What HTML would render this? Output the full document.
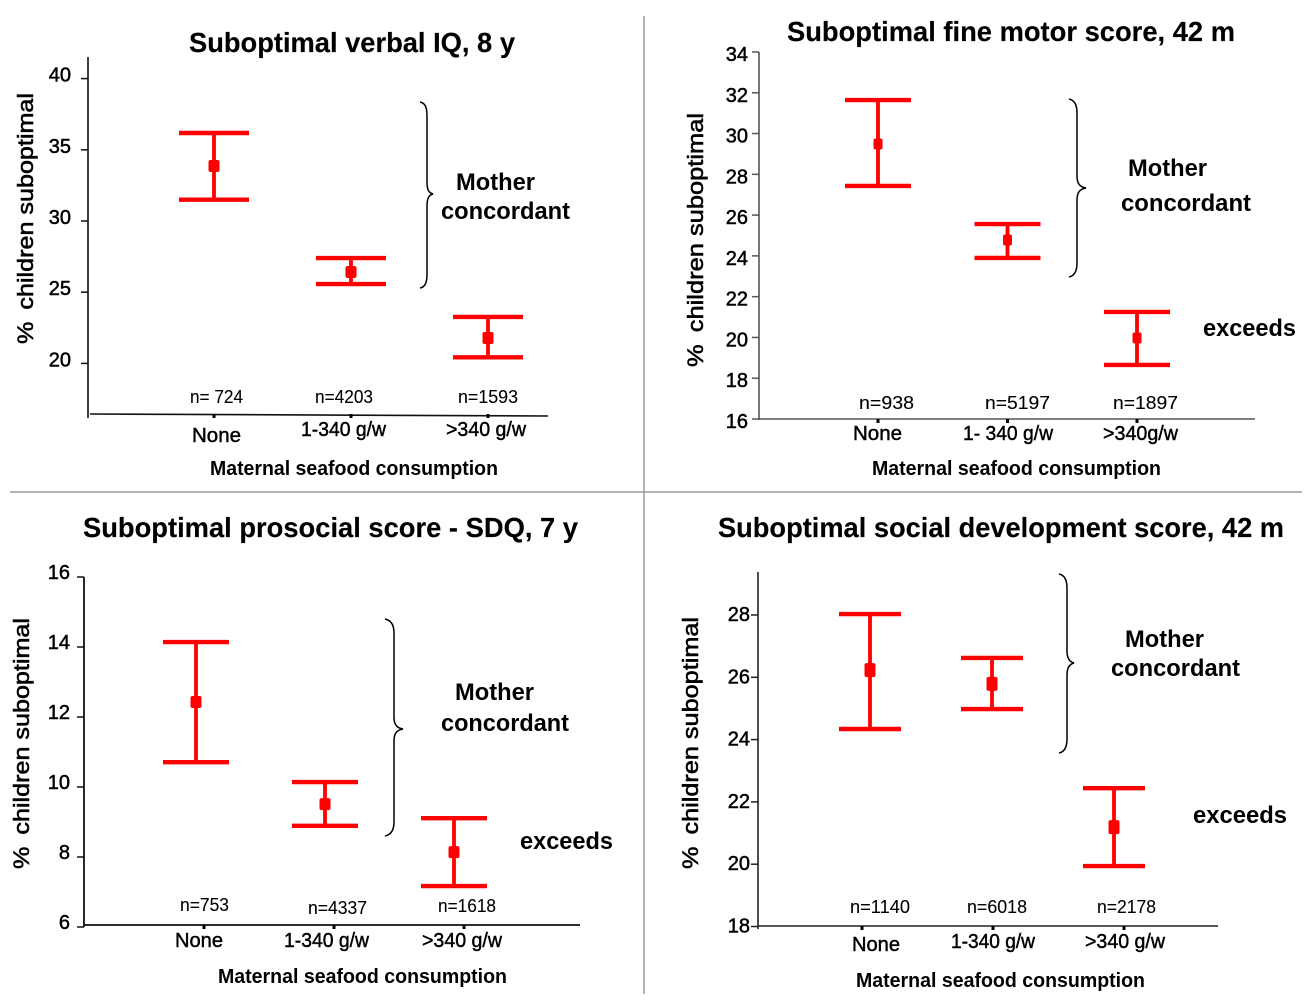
<!DOCTYPE html>
<html lang="en">
<head>
<meta charset="utf-8">
<title>Maternal seafood consumption and suboptimal child outcomes</title>
<style>
  html, body { margin: 0; padding: 0; background: #fff; }
  svg { display: block; filter: blur(0.35px); }
  text { font-family: "Liberation Sans", Arial, sans-serif; fill: #000; }
  .title { font-size: 28px; font-weight: bold; stroke: #000; stroke-width: 0.15px; }
  .ytitle { font-size: 22px; stroke: #000; stroke-width: 0.55px; }
  .tick { font-size: 20px; stroke: #000; stroke-width: 0.5px; }
  .n { font-size: 18px; stroke: #000; stroke-width: 0.1px; }
  .cat { font-size: 20px; stroke: #000; stroke-width: 0.45px; }
  .xtitle { font-size: 20px; font-weight: bold; }
  .note { font-size: 24px; font-weight: bold; }
</style>
</head>
<body>
<svg id="chart" xmlns="http://www.w3.org/2000/svg" width="1306" height="1000" viewBox="0 0 1306 1000">
  <rect width="1306" height="1000" fill="#fff"/>
  <line x1="644" y1="16" x2="644" y2="994" stroke="#9a9a9a" stroke-width="1.5"/>
  <line x1="10" y1="492" x2="1302" y2="492" stroke="#9a9a9a" stroke-width="1.5"/>

  <!-- Panel 1 text -->
  <text class="title" x="189" y="52" textLength="326" lengthAdjust="spacingAndGlyphs">Suboptimal verbal IQ, 8 y</text>
  <text class="ytitle" transform="translate(33 344) rotate(-90)" textLength="251" lengthAdjust="spacingAndGlyphs">%&#160;&#8201;children suboptimal</text>
  <text class="n" x="190" y="403" textLength="53" lengthAdjust="spacingAndGlyphs">n= 724</text>
  <text class="n" x="315" y="403" textLength="58" lengthAdjust="spacingAndGlyphs">n=4203</text>
  <text class="n" x="458" y="403" textLength="60" lengthAdjust="spacingAndGlyphs">n=1593</text>
  <text class="cat" x="192" y="442" textLength="49" lengthAdjust="spacingAndGlyphs">None</text>
  <text class="cat" x="301" y="436" textLength="85" lengthAdjust="spacingAndGlyphs">1-340 g/w</text>
  <text class="cat" x="446" y="436" textLength="80" lengthAdjust="spacingAndGlyphs">&gt;340 g/w</text>
  <text class="xtitle" x="210" y="475" textLength="288" lengthAdjust="spacingAndGlyphs">Maternal seafood consumption</text>
  <text class="note" x="456" y="190" textLength="79" lengthAdjust="spacingAndGlyphs">Mother</text>
  <text class="note" x="441" y="219" textLength="129" lengthAdjust="spacingAndGlyphs">concordant</text>

  <!-- Panel 2 text -->
  <text class="title" x="787" y="41" textLength="448" lengthAdjust="spacingAndGlyphs">Suboptimal fine motor score, 42 m</text>
  <text class="ytitle" transform="translate(703 367) rotate(-90)" textLength="254" lengthAdjust="spacingAndGlyphs">%&#160;&#8201;children suboptimal</text>
  <text class="n" x="859" y="409" textLength="55" lengthAdjust="spacingAndGlyphs">n=938</text>
  <text class="n" x="985" y="409" textLength="65" lengthAdjust="spacingAndGlyphs">n=5197</text>
  <text class="n" x="1113" y="409" textLength="65" lengthAdjust="spacingAndGlyphs">n=1897</text>
  <text class="cat" x="853" y="440" textLength="49" lengthAdjust="spacingAndGlyphs">None</text>
  <text class="cat" x="963" y="440" textLength="90" lengthAdjust="spacingAndGlyphs">1- 340 g/w</text>
  <text class="cat" x="1103" y="440" textLength="75" lengthAdjust="spacingAndGlyphs">&gt;340g/w</text>
  <text class="xtitle" x="872" y="475" textLength="289" lengthAdjust="spacingAndGlyphs">Maternal seafood consumption</text>
  <text class="note" x="1128" y="176" textLength="79" lengthAdjust="spacingAndGlyphs">Mother</text>
  <text class="note" x="1121" y="211" textLength="130" lengthAdjust="spacingAndGlyphs">concordant</text>
  <text class="note" x="1203" y="336" textLength="93" lengthAdjust="spacingAndGlyphs">exceeds</text>

  <!-- Panel 3 text -->
  <text class="title" x="83" y="537" textLength="495" lengthAdjust="spacingAndGlyphs">Suboptimal prosocial score - SDQ, 7 y</text>
  <text class="ytitle" transform="translate(29 869) rotate(-90)" textLength="251" lengthAdjust="spacingAndGlyphs">%&#160;&#8201;children suboptimal</text>
  <text class="n" x="180" y="911" textLength="49" lengthAdjust="spacingAndGlyphs">n=753</text>
  <text class="n" x="308" y="914" textLength="59" lengthAdjust="spacingAndGlyphs">n=4337</text>
  <text class="n" x="438" y="912" textLength="58" lengthAdjust="spacingAndGlyphs">n=1618</text>
  <text class="cat" x="175" y="947" textLength="48" lengthAdjust="spacingAndGlyphs">None</text>
  <text class="cat" x="284" y="947" textLength="85" lengthAdjust="spacingAndGlyphs">1-340 g/w</text>
  <text class="cat" x="422" y="947" textLength="80" lengthAdjust="spacingAndGlyphs">&gt;340 g/w</text>
  <text class="xtitle" x="218" y="983" textLength="289" lengthAdjust="spacingAndGlyphs">Maternal seafood consumption</text>
  <text class="note" x="455" y="700" textLength="79" lengthAdjust="spacingAndGlyphs">Mother</text>
  <text class="note" x="441" y="731" textLength="128" lengthAdjust="spacingAndGlyphs">concordant</text>
  <text class="note" x="520" y="849" textLength="93" lengthAdjust="spacingAndGlyphs">exceeds</text>

  <!-- Panel 4 text -->
  <text class="title" x="718" y="537" textLength="566" lengthAdjust="spacingAndGlyphs">Suboptimal social development score, 42 m</text>
  <text class="ytitle" transform="translate(698 869) rotate(-90)" textLength="252" lengthAdjust="spacingAndGlyphs">%&#160;&#8201;children suboptimal</text>
  <text class="n" x="850" y="913" textLength="60" lengthAdjust="spacingAndGlyphs">n=1140</text>
  <text class="n" x="967" y="913" textLength="60" lengthAdjust="spacingAndGlyphs">n=6018</text>
  <text class="n" x="1097" y="913" textLength="59" lengthAdjust="spacingAndGlyphs">n=2178</text>
  <text class="cat" x="852" y="951" textLength="48" lengthAdjust="spacingAndGlyphs">None</text>
  <text class="cat" x="951" y="948" textLength="84" lengthAdjust="spacingAndGlyphs">1-340 g/w</text>
  <text class="cat" x="1085" y="948" textLength="80" lengthAdjust="spacingAndGlyphs">&gt;340 g/w</text>
  <text class="xtitle" x="856" y="987" textLength="289" lengthAdjust="spacingAndGlyphs">Maternal seafood consumption</text>
  <text class="note" x="1125" y="647" textLength="79" lengthAdjust="spacingAndGlyphs">Mother</text>
  <text class="note" x="1111" y="676" textLength="129" lengthAdjust="spacingAndGlyphs">concordant</text>
  <text class="note" x="1193" y="823" textLength="94" lengthAdjust="spacingAndGlyphs">exceeds</text>

  <!-- Braces -->
  <path fill="none" stroke="#000" stroke-width="1.5" d="M420 102 C425 103 427 107 427 116 L427 182 C427 190 429 193 433 194 C429 195 427 198 427 206 L427 274 C427 283 425 287 420 288"/>
  <path fill="none" stroke="#000" stroke-width="1.5" d="M1069 99 C1074 100 1077 104 1077 113 L1077 176 C1077 184 1080 187 1086 188 C1080 189 1077 192 1077 200 L1077 263 C1077 272 1074 276 1069 277"/>
  <path fill="none" stroke="#000" stroke-width="1.5" d="M385 619 C390 620 394 624 394 633 L394 717 C394 725 397 728 403 729 C397 730 394 733 394 741 L394 822 C394 831 390 835 385 836"/>
  <path fill="none" stroke="#000" stroke-width="1.5" d="M1059 574 C1064 575 1067 579 1067 588 L1067 651 C1067 659 1070 662 1074 663 C1070 664 1067 667 1067 675 L1067 739 C1067 748 1064 752 1059 753"/>

  <g id="marks"></g>
</svg>

<script>
// ---- Verbal IQ, 8 y ----
const verbalCategories = ['none', '1-340', 'over-340'];
const verbalHigh = [36.18, 27.4, 23.26];
const verbalMean = [33.86, 26.42, 21.78];
const verbalLow = [31.5, 25.57, 20.43];
const verbalTicks = [20, 25, 30, 35, 40];

// ---- Fine motor score, 42 m ----
const motorCategories = ['none', '1-340', 'over-340'];
const motorHigh = [31.64, 25.56, 21.25];
const motorMean = [29.49, 24.78, 19.97];
const motorLow = [27.43, 23.9, 18.65];
const motorTicks = [16, 18, 20, 22, 24, 26, 28, 30, 32, 34];

// ---- Prosocial score - SDQ, 7 y ----
const prosocialCategories = ['none', '1-340', 'over-340'];
const prosocialHigh = [14.14, 10.14, 9.11];
const prosocialMean = [12.43, 9.51, 8.14];
const prosocialLow = [10.71, 8.89, 7.17];
const prosocialTicks = [6, 8, 10, 12, 14, 16];

// ---- Social development score, 42 m ----
const socialCategories = ['none', '1-340', 'over-340'];
const socialHigh = [28.03, 26.62, 22.44];
const socialMean = [26.23, 25.79, 21.19];
const socialLow = [24.34, 24.98, 19.94];
const socialTicks = [18, 20, 22, 24, 26, 28];

const SVG_NS = 'http://www.w3.org/2000/svg';
const root = document.getElementById('marks');

function makeLine(x1, y1, x2, y2, color, width) {
  const el = document.createElementNS(SVG_NS, 'line');
  el.setAttribute('x1', x1);
  el.setAttribute('y1', y1);
  el.setAttribute('x2', x2);
  el.setAttribute('y2', y2);
  el.setAttribute('stroke', color);
  el.setAttribute('stroke-width', width);
  root.appendChild(el);
  return el;
}

function drawPanel(p) {
  // axis functions
  const yScale = v => p.yRefPx - (v - p.yRefVal) * p.pxPerUnit;
  const markX = i => p.markX0 + i * p.markStep;
  const tickX = i => p.tickX0 + i * p.tickStep;

  const yAxis = makeLine(p.axisX, p.axisTop, p.axisX, p.axisBottom, p.axisColor, p.axisWidth);
  
  

  const xAxis = makeLine(p.xAxisStart, p.xAxisY, p.xAxisEnd, p.xAxisY + p.xAxisTilt, p.axisColor, p.axisWidth);
  
  

  p.ticks.forEach(function (t) {
    const y = yScale(t);
    const tick = makeLine(p.axisX - 7, y, p.axisX, y, p.axisColor, 1.5);
    
    

    const label = document.createElementNS(SVG_NS, 'text');
    label.setAttribute('class', 'tick');
    label.setAttribute('x', p.labelRight);
    label.setAttribute('y', y + p.labelDy);
    label.setAttribute('text-anchor', 'end');
    label.textContent = t;
    
    
    root.appendChild(label);
  });

  p.categories.forEach(function (c, i) {
    const tx = tickX(i);
    const xt = makeLine(tx, p.xAxisY, tx, p.xAxisY + 4, '#000', 3);
    
    

    const x = markX(i);
    const yHi = yScale(p.high[i]);
    const yLo = yScale(p.low[i]);
    const yMean = yScale(p.mean[i]);

    const stem = makeLine(x, yHi, x, yLo, '#ff0000', 3.8);
    
    

    const capTop = makeLine(x - p.capHalf, yHi, x + p.capHalf, yHi, '#ff0000', 4.4);
    
    

    const capBottom = makeLine(x - p.capHalf, yLo, x + p.capHalf, yLo, '#ff0000', 4.4);
    
    

    const dot = document.createElementNS(SVG_NS, 'rect');
    dot.setAttribute('x', x - p.dotW / 2);
    dot.setAttribute('y', yMean - p.dotH / 2);
    dot.setAttribute('width', p.dotW);
    dot.setAttribute('height', p.dotH);
    dot.setAttribute('rx', 2);
    dot.setAttribute('fill', '#ff0000');
    
    
    root.appendChild(dot);
  });
}

drawPanel({
  id: 'verbal-iq', categories: verbalCategories, high: verbalHigh, mean: verbalMean, low: verbalLow, ticks: verbalTicks,
  yRefVal: 30, yRefPx: 221, pxPerUnit: 14.24,
  axisX: 88, axisTop: 57, axisBottom: 418, axisColor: '#111', axisWidth: 1.6,
  xAxisStart: 90, xAxisEnd: 548, xAxisY: 414, xAxisTilt: 2,
  markX0: 214, markStep: 137, tickX0: 214, tickStep: 137,
  capHalf: 35, dotW: 11, dotH: 12, labelRight: 71, labelDy: 3
});

drawPanel({
  id: 'fine-motor', categories: motorCategories, high: motorHigh, mean: motorMean, low: motorLow, ticks: motorTicks,
  yRefVal: 16, yRefPx: 419, pxPerUnit: 20.39,
  axisX: 759, axisTop: 52, axisBottom: 420, axisColor: '#555', axisWidth: 1.6,
  xAxisStart: 759, xAxisEnd: 1255, xAxisY: 419, xAxisTilt: 0,
  markX0: 878, markStep: 129.5, tickX0: 878, tickStep: 129.5,
  capHalf: 33, dotW: 9, dotH: 11, labelRight: 748, labelDy: 9
});

drawPanel({
  id: 'prosocial', categories: prosocialCategories, high: prosocialHigh, mean: prosocialMean, low: prosocialLow, ticks: prosocialTicks,
  yRefVal: 6, yRefPx: 927, pxPerUnit: 35,
  axisX: 84, axisTop: 577, axisBottom: 927, axisColor: '#111', axisWidth: 1.8,
  xAxisStart: 84, xAxisEnd: 580, xAxisY: 925, xAxisTilt: 0,
  markX0: 196, markStep: 129, tickX0: 204, tickStep: 130,
  capHalf: 33, dotW: 11, dotH: 12, labelRight: 70, labelDy: 2
});

drawPanel({
  id: 'social-development', categories: socialCategories, high: socialHigh, mean: socialMean, low: socialLow, ticks: socialTicks,
  yRefVal: 28, yRefPx: 615, pxPerUnit: 31.15,
  axisX: 758, axisTop: 572, axisBottom: 929, axisColor: '#222', axisWidth: 1.6,
  xAxisStart: 758, xAxisEnd: 1218, xAxisY: 926, xAxisTilt: 0,
  markX0: 870, markStep: 122, tickX0: 862, tickStep: 131,
  capHalf: 31, dotW: 11, dotH: 14, labelRight: 750, labelDy: 6
});
</script>
</body>
</html>
